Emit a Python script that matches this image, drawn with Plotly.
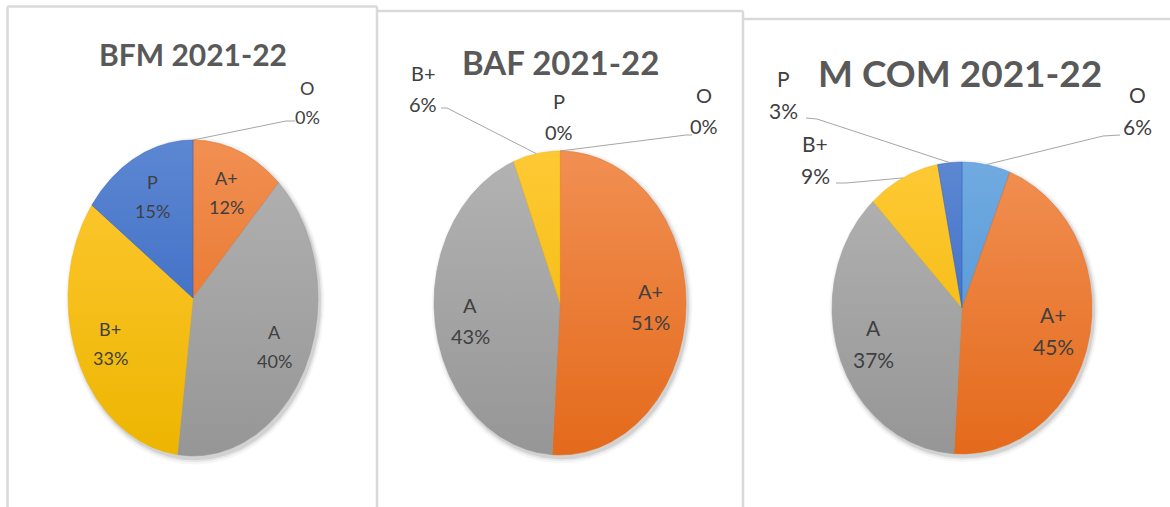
import math
import plotly.graph_objects as go

# ---------------- data ----------------
categories = ["O", "A+", "A", "B+", "P"]          # clockwise from 12 o'clock
titles = ["BFM 2021-22", "BAF 2021-22", "M COM 2021-22"]
bfm_values = [0, 12, 40, 33, 15]
baf_values = [0, 51, 43, 6, 0]
mcom_values = [6, 45, 37, 9, 3]
series = [bfm_values, baf_values, mcom_values]

# ---------------- style ----------------
slice_colors = {  # (top, bottom) of the vertical gradient
    "O": ("#70AAE0", "#4A8FD3"),
    "A+": ("#F18F52", "#E46A1B"),
    "A": ("#B3B3B3", "#969696"),
    "B+": ("#FFC935", "#EDB500"),
    "P": ("#5C87D2", "#2E5FBD"),
}
W, H = 1170, 507
FONT = "Lato, Carlito, sans-serif"
LABEL_COLOR = "#404040"
TITLE_COLOR = "#595959"
LEADER_COLOR = "#A6A6A6"
BORDER_COLOR = "#D9D9D9"

panels = [
    dict(cx=193, cy=298, rx=125, ry=158, title_xy=(193, 54), title_size=30,
         label_size=18, gap=29,
         outside={"O": dict(xy=(307, 102), leader=[(286, 121), (295, 121)])}),
    dict(cx=560, cy=303, rx=126, ry=152, title_xy=(560, 62), title_size=33,
         label_size=20, gap=31,
         outside={"B+": dict(xy=(423, 88), leader=[(447, 108), (441, 108)]),
                  "P": dict(xy=(559, 116), leader=None),
                  "O": dict(xy=(704, 110), leader=[(686, 135), (692, 135)])}),
    dict(cx=962, cy=308, rx=130, ry=146, title_xy=(960, 72), title_size=37,
         label_size=21, gap=32,
         outside={"P": dict(xy=(783, 94), leader=[(817, 119), (806, 118)]),
                  "B+": dict(xy=(815, 159), leader=[(846, 183), (836, 183)]),
                  "O": dict(xy=(1137, 110), leader=[(1103, 136), (1120, 135)])}),
]

fig = go.Figure()
annotations = []
shapes = []


def ell_point(p, frac, scale=1.0):
    th = 2 * math.pi * frac
    return (p["cx"] + scale * p["rx"] * math.sin(th),
            p["cy"] - scale * p["ry"] * math.cos(th))


for p, vals, title in zip(panels, series, titles):
    total = float(sum(vals))
    # soft shadow
    for sc, a in [(1.035, 0.035), (1.02, 0.06), (1.008, 0.09)]:
        xs, ys = [], []
        for i in range(361):
            x, y = ell_point(p, i / 360.0, sc)
            xs.append(x + 2)
            ys.append(y + 3)
        fig.add_trace(go.Scatter(x=xs, y=ys, mode="lines", fill="toself",
                                 fillcolor=f"rgba(0,0,0,{a})",
                                 line=dict(width=0), hoverinfo="skip",
                                 showlegend=False))
    cum = 0.0
    for cat, v in zip(categories, vals):
        f0 = cum / total
        f1 = (cum + v) / total
        cum += v
        fmid = (f0 + f1) / 2
        if v > 0:
            n = max(3, int((f1 - f0) * 720))
            xs, ys = [p["cx"]], [p["cy"]]
            for i in range(n + 1):
                x, y = ell_point(p, f0 + (f1 - f0) * i / n)
                xs.append(x)
                ys.append(y)
            xs.append(p["cx"])
            ys.append(p["cy"])
            top, bot = slice_colors[cat]
            fig.add_trace(go.Scatter(
                x=xs, y=ys, mode="lines", fill="toself",
                fillcolor=top,
                fillgradient=dict(type="vertical",
                                  colorscale=[[0, top], [1, bot]],
                                  start=p["cy"] - p["ry"], stop=p["cy"] + p["ry"]),
                line=dict(width=0.5, color=bot), hoverinfo="skip",
                showlegend=False, name=cat))
        pct = f"{round(100 * v / total):d}%"
        if cat in p["outside"]:
            o = p["outside"][cat]
            lx, ly = o["xy"]
            if o["leader"]:
                px, py = ell_point(p, fmid)
                pts = [(px, py)] + o["leader"]
                fig.add_trace(go.Scatter(x=[q[0] for q in pts], y=[q[1] for q in pts],
                                         mode="lines", line=dict(color=LEADER_COLOR, width=1),
                                         hoverinfo="skip", showlegend=False))
        else:
            lx, ly = ell_point(p, fmid, 0.72)
        for txt, dy in ((cat, -p["gap"] / 2), (pct, p["gap"] / 2)):
            annotations.append(dict(x=lx, y=ly + dy, xref="x", yref="y", text=txt,
                                    showarrow=False, xanchor="center", yanchor="middle",
                                    font=dict(family=FONT, size=p["label_size"],
                                              color=LABEL_COLOR)))
    annotations.append(dict(x=p["title_xy"][0], y=p["title_xy"][1], xref="x", yref="y",
                            text=f"<b>{title}</b>", showarrow=False,
                            xanchor="center", yanchor="middle",
                            font=dict(family=FONT, size=p["title_size"], color=TITLE_COLOR)))

# panel borders
border = dict(type="line", xref="x", yref="y", line=dict(color=BORDER_COLOR, width=2.5), layer="below")
for (x0, y0, x1, y1) in [(7.5, 6.5, 377, 6.5), (7.5, 6.5, 7.5, 510), (377, 6.5, 377, 510),
                         (377, 11, 743, 11), (743, 11, 743, 510),
                         (743, 19, 1172, 19)]:
    shapes.append(dict(border, x0=x0, y0=y0, x1=x1, y1=y1))

fig.update_layout(
    width=W, height=H, margin=dict(l=0, r=0, t=0, b=0),
    paper_bgcolor="white", plot_bgcolor="white",
    xaxis=dict(range=[0, W], visible=False, fixedrange=True),
    yaxis=dict(range=[H, 0], visible=False, fixedrange=True),
    annotations=annotations, shapes=shapes, showlegend=False,
)
fig.write_html("out.html", config={"displayModeBar": False},
               post_script="document.body.style.margin='0';document.body.style.overflow='hidden';")
